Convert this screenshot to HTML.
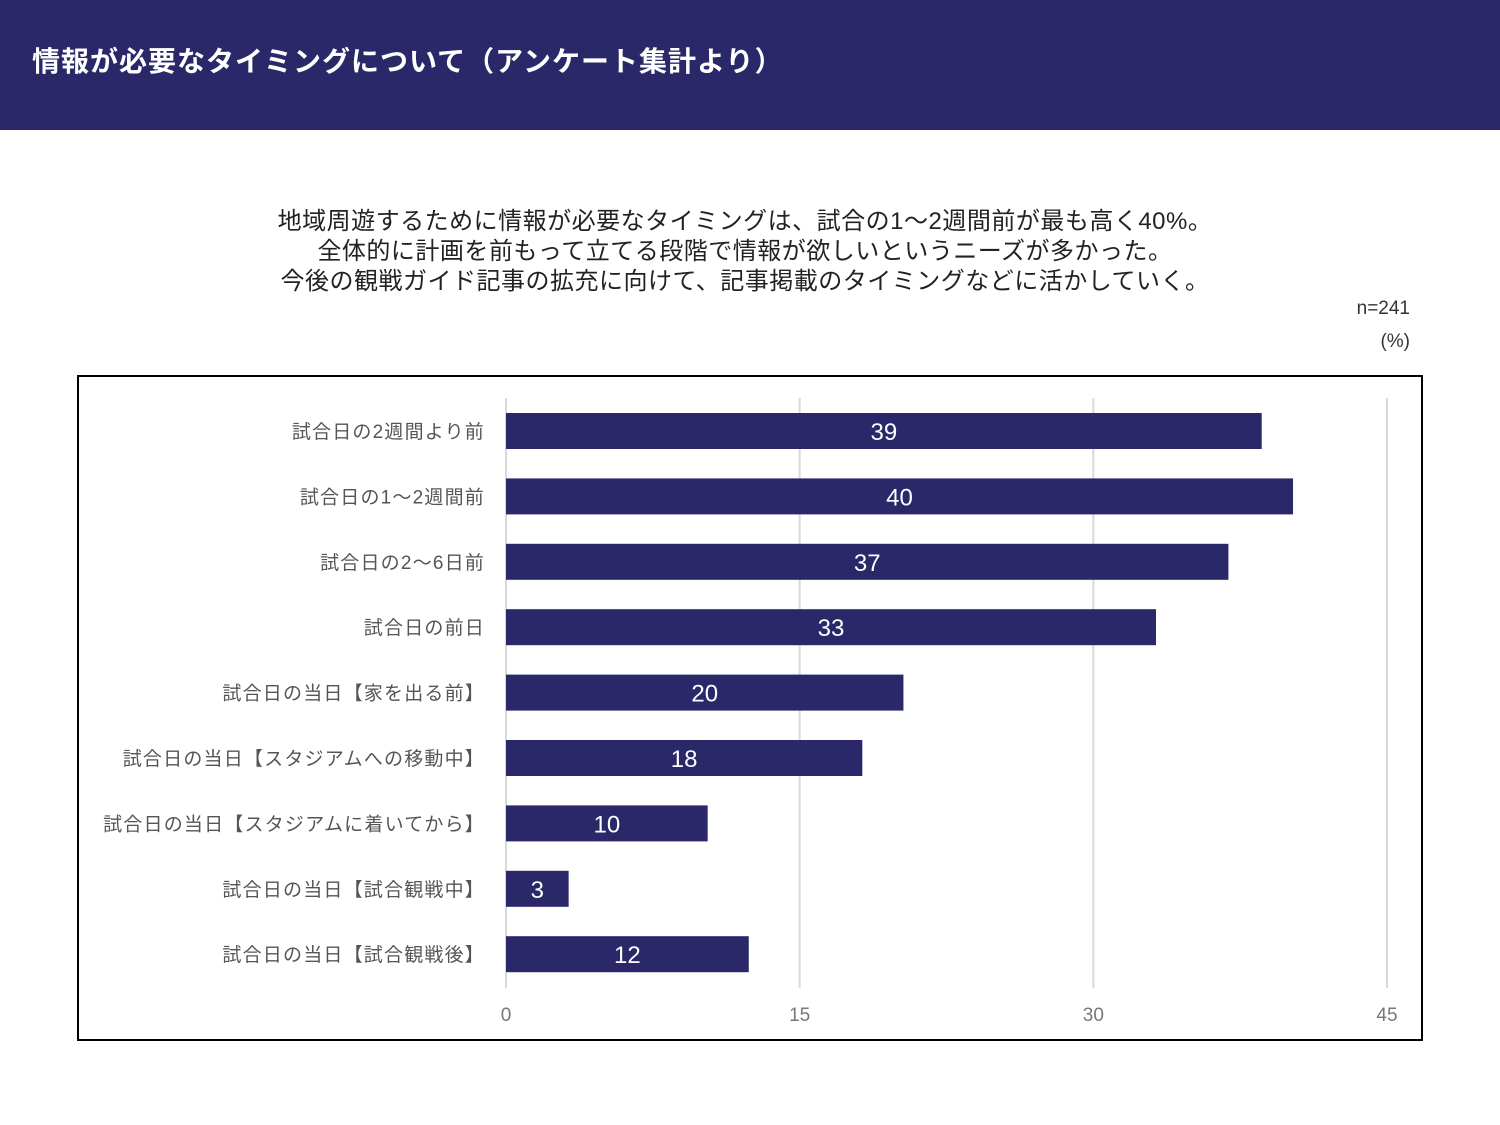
<!DOCTYPE html>
<html><head><meta charset="utf-8">
<style>
body{margin:0;width:1500px;height:1125px;background:#fff;overflow:hidden;font-family:"Liberation Sans","Noto Sans CJK JP",sans-serif;position:relative}
#hdr{position:absolute;left:0;top:0;width:1500px;height:130px;background:#2a2869}
#title{position:absolute;left:32px;top:40px;color:#fff;font-size:28px;font-weight:bold;letter-spacing:1px}
.desc{position:absolute;left:0;width:1490px;text-align:center;font-size:24px;letter-spacing:0.5px;color:#222}
.note{position:absolute;right:90px;font-size:19px;color:#333}
#box{position:absolute;left:77px;top:375px;width:1342px;height:662px;border:2px solid #000}
</style></head><body>
<div id="hdr"><div id="title">情報が必要なタイミングについて（アンケート集計より）</div></div>
<div class="desc" style="top:201px">地域周遊するために情報が必要なタイミングは、試合の1～2週間前が最も高く40%。</div>
<div class="desc" style="top:231px">全体的に計画を前もって立てる段階で情報が欲しいというニーズが多かった。</div>
<div class="desc" style="top:261px">今後の観戦ガイド記事の拡充に向けて、記事掲載のタイミングなどに活かしていく。</div>
<div class="note" style="top:298px">n=241</div>
<div class="note" style="top:331px">(%)</div>
<div id="box"></div>
<svg id="chart" width="1500" height="1125" style="position:absolute;left:0;top:0"></svg>
<script>
const categories=["試合日の2週間より前","試合日の1～2週間前","試合日の2～6日前","試合日の前日","試合日の当日【家を出る前】","試合日の当日【スタジアムへの移動中】","試合日の当日【スタジアムに着いてから】","試合日の当日【試合観戦中】","試合日の当日【試合観戦後】"];
const values=[38.6,40.2,36.9,33.2,20.3,18.2,10.3,3.2,12.4];
const labels=["39","40","37","33","20","18","10","3","12"];
const ticks=[0,15,30,45];
const NS="http://www.w3.org/2000/svg";
const svg=document.getElementById('chart');
const x=v=>506+v*(1387-506)/45;
const y=i=>431+i*65.4;
function mk(t,a){const e=document.createElementNS(NS,t);for(const k in a)e.setAttribute(k,a[k]);svg.appendChild(e);return e;}
ticks.forEach(t=>{
 if(t>0){const g=mk('line',{x1:x(t),x2:x(t),y1:398,y2:988,stroke:'#d9d9d9','stroke-width':2});
 
 }
 const l=mk('text',{x:x(t),y:1021,'text-anchor':'middle','font-size':19,fill:'#777'});l.textContent=t;
 
 
});
const ax=mk('line',{x1:x(0),x2:x(0),y1:398,y2:988,stroke:'#d9d9d9','stroke-width':2});


categories.forEach((c,i)=>{
 const r=mk('rect',{x:x(0),y:y(i)-18,width:x(values[i])-x(0),height:36,fill:'#2a2869'});
 
 
 const v=mk('text',{x:(x(0)+x(values[i]))/2,y:y(i)+9,'text-anchor':'middle','font-size':24,fill:'#fff'});v.textContent=labels[i];
 
 
 const t=mk('text',{x:485,y:y(i)+7,'text-anchor':'end','font-size':19,fill:'#555','letter-spacing':1.2});t.textContent=c;
 
 
});
</script>
</body></html>
